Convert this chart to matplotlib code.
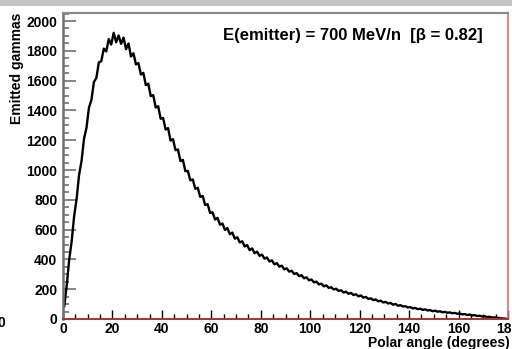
import numpy as np
import matplotlib
matplotlib.use("Agg")
import matplotlib.pyplot as plt
from matplotlib.patches import Rectangle
from matplotlib.ticker import MultipleLocator

# --- data: counts per 1 degree bin ---
bin_edges = np.arange(0, 181, 1)
counts = [
    85, 224, 397, 521, 690, 806, 968, 1061, 1210, 1283,
    1419, 1470, 1591, 1618, 1722, 1731, 1815, 1796, 1879, 1842,
    1921, 1858, 1903, 1847, 1889, 1811, 1850, 1762, 1784, 1709,
    1718, 1641, 1652, 1570, 1579, 1496, 1503, 1420, 1428, 1344,
    1349, 1272, 1281, 1198, 1207, 1133, 1138, 1060, 1068, 992,
    994, 931, 937, 874, 881, 820, 826, 765, 771, 712,
    716, 668, 679, 633, 641, 598, 610, 569, 580, 539,
    549, 514, 522, 487, 496, 462, 474, 442, 452, 424,
    432, 405, 413, 386, 394, 367, 375, 351, 358, 333,
    340, 318, 324, 302, 308, 288, 294, 273, 280, 260,
    265, 246, 251, 232, 237, 219, 226, 209, 213, 198,
    203, 188, 193, 178, 183, 169, 175, 161, 166, 152,
    158, 144, 148, 135, 139, 127, 131, 119, 123, 111,
    115, 104, 108, 96, 101, 89, 93, 84, 86, 77,
    80, 71, 74, 66, 69, 61, 65, 57, 60, 52,
    56, 49, 52, 45, 48, 42, 44, 39, 41, 35,
    37, 31, 33, 27, 30, 24, 26, 20, 22, 17,
    19, 13, 15, 10, 11, 7, 7, 4, 3, 1,
]
x_ticks = [0, 20, 40, 60, 80, 100, 120, 140, 160, 180]
y_ticks = [0, 200, 400, 600, 800, 1000, 1200, 1400, 1600, 1800, 2000]
label_text = "E(emitter) = 700 MeV/n  [\u03b2 = 0.82]"

plt.rcParams['font.family'] = ['Liberation Sans', 'DejaVu Sans']
plt.rcParams['font.weight'] = 'bold'

W, H = 512, 349
fig = plt.figure(figsize=(W / 100, H / 100), dpi=100)
ax = fig.add_axes([63 / W, 1 - 319 / H, 445 / W, 306 / H])

# fine-binned histogram looks like a jagged thick line
centers = bin_edges[:-1] + 0.5
ax.plot(centers, counts, color='black', linewidth=1.7)

ax.set_xlim(0, 180)
ax.set_ylim(0, 2054)
ax.set_xticks(x_ticks)
ax.set_yticks(y_ticks)
ax.xaxis.set_minor_locator(MultipleLocator(5))
ax.yaxis.set_minor_locator(MultipleLocator(50))
ax.tick_params(axis='x', which='both', direction='in', colors='black', top=False, labelsize=10, pad=2)
ax.tick_params(axis='x', which='major', length=6.5, width=1)
ax.tick_params(axis='x', which='minor', length=3.5, width=1)
ax.tick_params(axis='y', which='both', direction='in', color='#707070', right=False, labelsize=10, pad=4)
ax.tick_params(axis='y', which='major', length=9, width=1.2)
ax.tick_params(axis='y', which='minor', length=4.5, width=1.2)
for lab in ax.get_xticklabels() + ax.get_yticklabels():
    lab.set_fontweight('bold')

ax.spines['top'].set_color('#8a8a8a')
ax.spines['top'].set_linewidth(1.6)
ax.spines['left'].set_color('#707070')
ax.spines['left'].set_linewidth(1.8)
ax.spines['bottom'].set_color('#a83232')
ax.spines['bottom'].set_linewidth(1.4)
ax.spines['right'].set_color('#e07070')
ax.spines['right'].set_linewidth(1.2)

ax.text((483 - 63) / 445, 0.925, label_text, transform=ax.transAxes, ha='right', va='center',
        fontsize=12, fontweight='bold')

fig.text(17 / W, 1 - 13 / H, "Emitted gammas", rotation=90, ha='center', va='top',
         fontsize=10, fontweight='bold')
fig.text(510 / W, 1 - 343 / H, "Polar angle (degrees)", ha='right', va='center',
         fontsize=10, fontweight='bold')
fig.text(1 / W, 1 - 323 / H, "0", ha='center', va='center', fontsize=10, fontweight='bold')

# grey strip at the top of the canvas
fig.patches.append(Rectangle((0, 1 - 6 / H), 1, 6 / H, transform=fig.transFigure,
                             facecolor='#c4c4c4', edgecolor='none'))

fig.savefig("out.png", dpi=100)
